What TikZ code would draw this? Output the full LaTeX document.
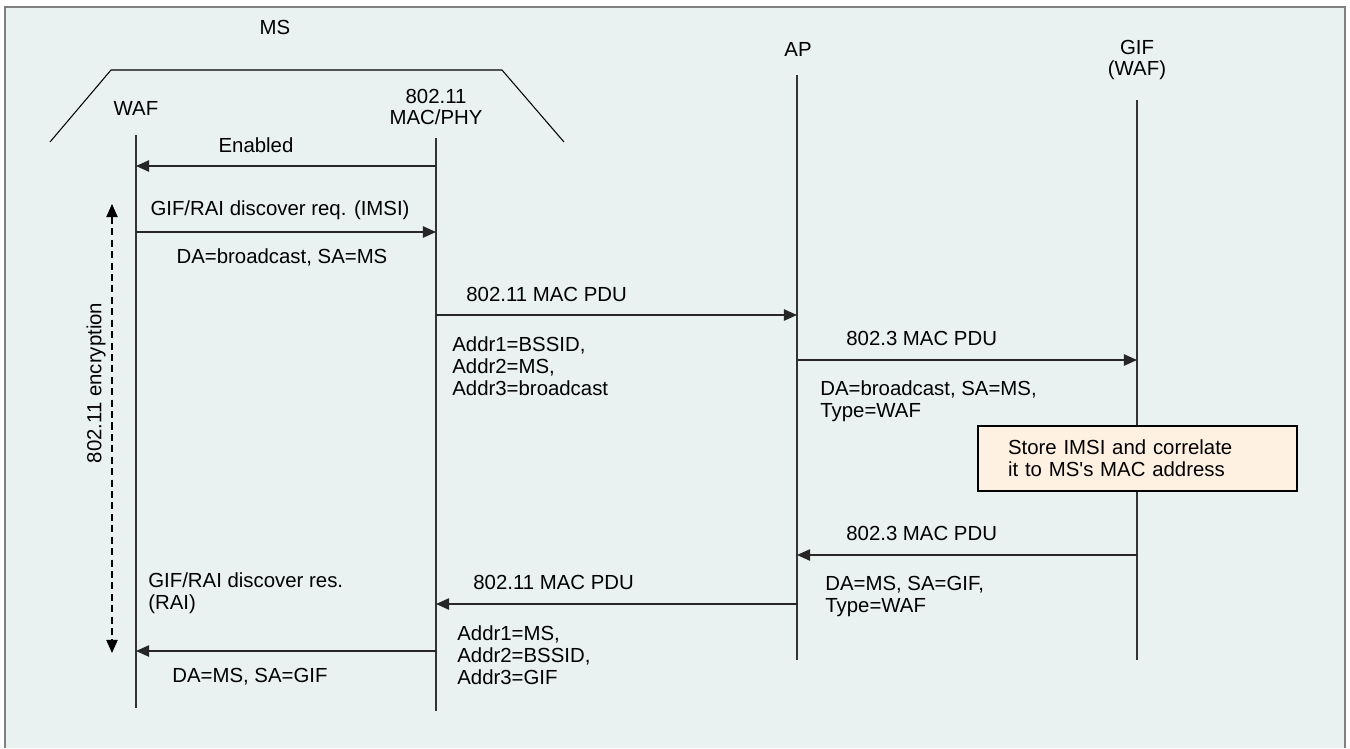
\documentclass[tikz,border=0pt]{standalone}
\usepackage{fontspec}
\setmainfont{Liberation Sans}
\usetikzlibrary{arrows.meta}

\definecolor{panelbg}{HTML}{E9F2F1}
\definecolor{panelframe}{HTML}{7F8080}
\definecolor{notefill}{HTML}{FFF1E1}

\begin{document}
\begin{tikzpicture}[
  x=0.02cm, y=-0.02cm,
  font=\fontsize{11.6}{12.6}\selectfont,
  life/.style={line width=0.6pt, black!80},
  msg/.style={-{Triangle[length=7.5pt, width=6.5pt]}, line width=0.9pt, black!85},
  lbl/.style={inner sep=0pt, anchor=west},
  blk/.style={inner sep=0pt, anchor=north west, align=left},
  note/.style={draw, line width=0.8pt, fill=notefill, align=left, text width=5.18cm, inner xsep=0.6cm, minimum height=1.3cm},
]
\useasboundingbox (0,0) rectangle (1350,748);
% Panel
\fill[panelbg] (5,7) rectangle (1345,748);
\draw[panelframe, line width=1pt] (5,748) -- (5,7) -- (1345,7) -- (1345,748);

% MS outline
\node (ms) at (275,27) {MS};
\draw[line width=0.6pt] (50,142) -- (111,70) -- (502,70) -- (564,142);

% Entities
\node (waf) at (136,108) {WAF};
\node[align=center] (mac) at (436,107) {802.11\\[-1pt]MAC/PHY};
\node (ap) at (798,49) {AP};
\node[align=center] (gif) at (1137,60) {GIF\\[-1pt](WAF)};

% Lifelines
\foreach \n/\x/\t/\b in {waf/136/135/708, mac/436/138/711, ap/797/75/660, gif/1137/100/660} {
  \coordinate (\n-top) at (\x,\t);
  \coordinate (\n-bot) at (\x,\b);
  \draw[life] (\n-top) -- (\n-bot);
}

% Message rows
\coordinate (r1) at (0,166);
\coordinate (r2) at (0,232);
\coordinate (r3) at (0,315);
\coordinate (r4) at (0,360);
\coordinate (r5) at (0,555);
\coordinate (r6) at (0,604);
\coordinate (r7) at (0,651);

\draw[msg] (mac-top |- r1) -- (waf-top |- r1);
\node (en) at (256,145) {Enabled};

\draw[msg] (waf-top |- r2) -- (mac-top |- r2);
\node (req) at (280,210) {GIF/RAI discover req. (IMSI)};
\node (reqa) at (282,257) {DA=broadcast, SA=MS};

\draw[msg] (mac-top |- r3) -- (ap-top |- r3);
\node[lbl] (pdu1) at (466,294) {802.11 MAC PDU};
\node[blk] (pdu1a) at (452,336) {Addr1=BSSID,\\Addr2=MS,\\Addr3=broadcast};

\draw[msg] (ap-top |- r4) -- (gif-top |- r4);
\node[lbl] (eth1) at (846,338) {802.3 MAC PDU};
\node[blk] (eth1a) at (820,380) {DA=broadcast, SA=MS,\\Type=WAF};

% Note on GIF
\node[note] (store) at (1137.5,458.5) {Store IMSI and correlate\\it to MS\textquotesingle s MAC address};

\draw[msg] (gif-top |- r5) -- (ap-top |- r5);
\node[lbl] (eth2) at (846,533) {802.3 MAC PDU};
\node[blk] (eth2a) at (825,576) {DA=MS, SA=GIF,\\Type=WAF};

\draw[msg] (ap-top |- r6) -- (mac-top |- r6);
\node[lbl] (pdu2) at (473,582) {802.11 MAC PDU};
\node[blk] (pdu2a) at (457,625) {Addr1=MS,\\Addr2=BSSID,\\Addr3=GIF};

\draw[msg] (mac-top |- r7) -- (waf-top |- r7);
\node[blk] (res) at (148,572) {GIF/RAI discover res.\\(RAI)};
\node[lbl] (resa) at (172,677) {DA=MS, SA=GIF};

% Encryption span
\coordinate (enc-top) at (112,204);
\coordinate (enc-bot) at (112,653);
\draw[{Triangle[length=7.5pt, width=6.5pt]}-{Triangle[length=7.5pt, width=6.5pt]}, dash pattern=on 4pt off 2.5pt, line width=0.6pt] (enc-top) -- (enc-bot);
\node[rotate=90] (encl) at (96,383) {802.11 encryption};
\end{tikzpicture}
\end{document}
